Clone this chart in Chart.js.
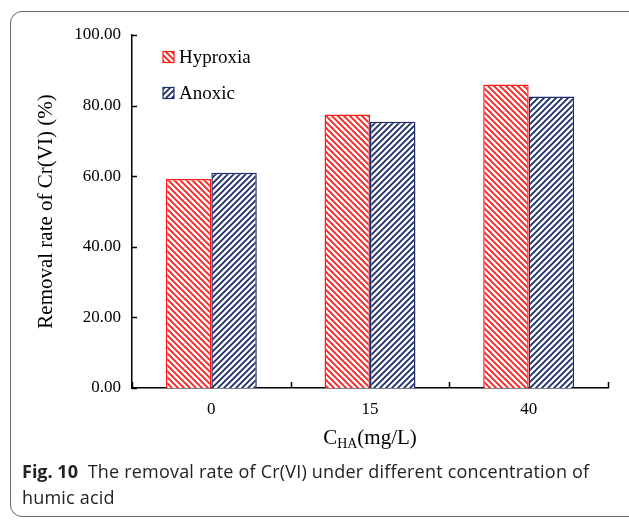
<!DOCTYPE html>
<html lang="en">
<head>
<meta charset="UTF-8">
<script src="https://cdn.jsdelivr.net/npm/chart.js"></script>
<title>Removal rate of Cr(VI)</title>
<style>
    html, body { margin: 0; padding: 0; background: #fff; }
    #wrap { position: relative; width: 629px; height: 521px; overflow: hidden; }
    #frame {
        position: absolute; left: 10px; top: 11px; width: 640px; height: 504px;
        border: 1.5px solid #666; border-radius: 12px;
    }
    canvas { position: absolute; left: 0; top: 0; }
    #caption {
        position: absolute; left: 22px; top: 458px; width: 595px;
        font-family: "Open Sans", sans-serif; font-size: 18px; letter-spacing: 0.2px;
        line-height: 26px; color: #222;
    }
    #caption b { font-weight: 700; letter-spacing: 0; }
</style>
</head>
<body>
<div id="wrap">
    <div id="frame"></div>
    <canvas id="chart" width="629" height="521"></canvas>
    <div id="caption"><b>Fig. 10</b>&nbsp; The removal rate of Cr(VI) under different concentration of humic acid</div>
</div>
<script>
    // data
    var categories = ['0', '15', '40'];
    var hyproxia = [59.2, 77.5, 86.0];
    var anoxic = [61.0, 75.4, 82.6];
    var seriesNames = ['Hyproxia', 'Anoxic'];

    var RED = '#ff1a1a';
    var NAVY = '#1c2c6a';
    var SERIF = '"Liberation Serif", "Times New Roman", serif';

    // hatch pattern, dir 1 = "\" , dir -1 = "/"
    function hatch(color, dir) {
        var s = 6;
        var c = document.createElement('canvas');
        c.width = s; c.height = s;
        var g = c.getContext('2d');
        g.fillStyle = '#fff';
        g.fillRect(0, 0, s, s);
        g.strokeStyle = color;
        g.lineWidth = 1.8;
        g.beginPath();
        if (dir > 0) {
            g.moveTo(-s, 0); g.lineTo(s, 2 * s);
            g.moveTo(0, 0); g.lineTo(s, s);
            g.moveTo(0, -s); g.lineTo(2 * s, s);
        } else {
            g.moveTo(0, s); g.lineTo(s, 0);
            g.moveTo(-s, s); g.lineTo(s, -s);
            g.moveTo(0, 2 * s); g.lineTo(2 * s, 0);
        }
        g.stroke();
        return g.createPattern(c, 'repeat');
    }

    var ctx = document.getElementById('chart').getContext('2d');
    var redFill = hatch(RED, 1);
    var blueFill = hatch(NAVY, -1);

    var extras = {
        id: 'extras',
        afterDraw: function (chart) {
            var c = chart.ctx;
            var x = chart.scales.x, y = chart.scales.y;
            var a = chart.chartArea;
            c.save();
            c.strokeStyle = '#000';
            c.lineWidth = 1.5;
            // inside ticks on y axis
            c.beginPath();
            y.ticks.forEach(function (t) {
                var py = Math.round(y.getPixelForValue(t.value)) + 0.5;
                c.moveTo(a.left, py); c.lineTo(a.left + 5, py);
            });
            // inside ticks at category boundaries
            var n = categories.length;
            var w = (x.getPixelForValue(n - 1) - x.getPixelForValue(0)) / (n - 1);
            for (var i = 0; i <= n; i++) {
                var px = Math.round(x.getPixelForValue(0) - w / 2 + i * w) + 0.5;
                c.moveTo(px, a.bottom); c.lineTo(px, a.bottom - 6);
            }
            c.stroke();

            // legend inside plot
            var fills = [redFill, blueFill], cols = [RED, NAVY];
            var ly = [57, 93];
            c.font = '19px ' + SERIF;
            c.textBaseline = 'middle';
            c.fillStyle = '#000';
            chart.data.datasets.forEach(function (ds, k) {
                c.fillStyle = fills[k];
                c.fillRect(163, ly[k] - 5.5, 11, 11);
                c.strokeStyle = cols[k];
                c.lineWidth = 1.2;
                c.strokeRect(163, ly[k] - 5.5, 11, 11);
                c.fillStyle = '#000';
                c.fillText(ds.label, 179, ly[k] + 1);
            });

            // y title
            c.save();
            c.translate(46, (a.top + a.bottom) / 2);
            c.rotate(-Math.PI / 2);
            c.textAlign = 'center';
            c.textBaseline = 'middle';
            c.font = '21px ' + SERIF;
            c.fillText('Removal rate of Cr(VI) (%)', 0, 0);
            c.restore();

            // x title with subscript
            var big = '21px ' + SERIF, small = '14px ' + SERIF;
            c.textBaseline = 'alphabetic';
            c.textAlign = 'left';
            c.font = big; var w1 = c.measureText('C').width; var w3 = c.measureText('(mg/L)').width;
            c.font = small; var w2 = c.measureText('HA').width;
            var sx = (a.left + a.right) / 2 - (w1 + w2 + w3) / 2;
            var base = 444;
            c.font = big; c.fillText('C', sx, base);
            c.font = small; c.fillText('HA', sx + w1, base + 4);
            c.font = big; c.fillText('(mg/L)', sx + w1 + w2, base);
            c.restore();
        }
    };

    new Chart(ctx, {
        type: 'bar',
        data: {
            labels: categories,
            datasets: [{
                label: seriesNames[0],
                data: hyproxia,
                backgroundColor: redFill,
                borderColor: RED,
                borderWidth: 1.5
            }, {
                label: seriesNames[1],
                data: anoxic,
                backgroundColor: blueFill,
                borderColor: NAVY,
                borderWidth: 1.5
            }]
        },
        options: {
            responsive: false,
            animation: false,
            devicePixelRatio: 1,
            categoryPercentage: 0.573,
            barPercentage: 1,
            layout: { padding: { left: 0, right: 21, top: 35, bottom: 0 } },
            plugins: {
                legend: { display: false },
                tooltip: { enabled: false },
                title: { display: false }
            },
            scales: {
                x: {
                    grid: { display: false },
                    border: { color: '#000', width: 1.5 },
                    ticks: { color: '#000', font: { family: SERIF, size: 17 }, padding: 3 },
                    afterFit: function (s) { s.height = 133; }
                },
                y: {
                    min: 0, max: 100,
                    grid: { display: false },
                    border: { color: '#000', width: 1.5 },
                    ticks: {
                        stepSize: 20,
                        color: '#000',
                        font: { family: SERIF, size: 17 },
                        padding: 3,
                        callback: function (v) { return v.toFixed(2); }
                    },
                    afterFit: function (s) { s.width = 132; }
                }
            }
        },
        plugins: [extras]
    });
</script>
</body>
</html>
